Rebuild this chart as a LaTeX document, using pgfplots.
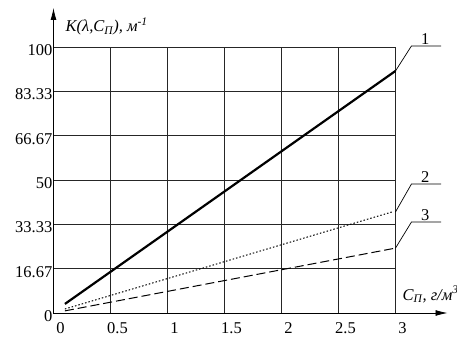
\documentclass[border=0pt]{standalone}
\usepackage{fontspec}
\setmainfont{Liberation Serif}
\usepackage{pgfplots}
\pgfplotsset{compat=1.18}
\usetikzlibrary{arrows.meta}
\begin{document}
\fontsize{16.5bp}{19bp}\selectfont
\begin{tikzpicture}
\begin{axis}[
  at={(0,0)}, anchor=origin,
  scale only axis, width=342bp, height=266bp,
  xmin=0, xmax=3, ymin=0, ymax=100,
  axis lines=left,
  axis line style={line width=0.8bp, black},
  x axis line style={-{Latex[length=12bp,width=6bp]}, shorten >=-52bp},
  y axis line style={-{Latex[length=12bp,width=6bp]}, shorten >=-39bp},
  xtick={0,0.5,1,1.5,2,2.5,3},
  xticklabels={\textrm{0},\textrm{0.5},\textrm{1},\textrm{1.5},\textrm{2},\textrm{2.5},\textrm{3}},
  ytick={0,16.67,33.33,50,66.67,83.33,100},
  yticklabels={\textrm{0},\textrm{16.67},\textrm{33.33},\textrm{50},\textrm{66.67},\textrm{83.33},\textrm{100}},
  grid=major, grid style={black!85, line width=0.8bp},
  major tick length=0pt,
  tick label style={font=\rmfamily\fontsize{16.5bp}{19bp}\selectfont},
  /pgf/number format/assume math mode=true,
  xticklabel style={xshift=7bp, yshift=-4bp},
  yticklabel style={yshift=-3bp, inner sep=1bp},
  clip=false,
]
\addplot[black, line width=2.2bp] coordinates {(0.1,3.4) (3,91)};
\addplot[black, line width=1bp, dash pattern=on 1.5bp off 2bp] coordinates {(0.1,1.5) (2.97,38.0)};
\addplot[black, line width=1bp, dash pattern=on 9bp off 4bp] coordinates {(0.1,0.8) (3,24.4)};
\draw[line width=0.7bp] (axis cs:3,91) -- (axis cs:3.14,100.4) -- (axis cs:3.40,100.4);
\node[anchor=south, inner sep=1.5bp] at (axis cs:3.26,100.4) {1};
\draw[line width=0.7bp] (axis cs:3,38) -- (axis cs:3.14,48.5) -- (axis cs:3.40,48.5);
\node[anchor=south, inner sep=1.5bp] at (axis cs:3.26,48.5) {2};
\draw[line width=0.7bp] (axis cs:3,24.4) -- (axis cs:3.14,34.2) -- (axis cs:3.40,34.2);
\node[anchor=south, inner sep=1.5bp] at (axis cs:3.26,34.2) {3};
\node[anchor=base west, font=\itshape, inner sep=0pt, xshift=12bp, yshift=15bp] at (axis cs:0,100) {K(λ,C\textsubscript{П}), м\textsuperscript{-1}};
\node[anchor=base west, font=\itshape, inner sep=0pt, xshift=7bp, yshift=13bp] at (axis cs:3,0) {C\textsubscript{П}, г/м\textsuperscript{3}};
\end{axis}
\pgfresetboundingbox
\path (-53.5bp,-25bp) rectangle (403.5bp,313bp);
\end{tikzpicture}
\end{document}
